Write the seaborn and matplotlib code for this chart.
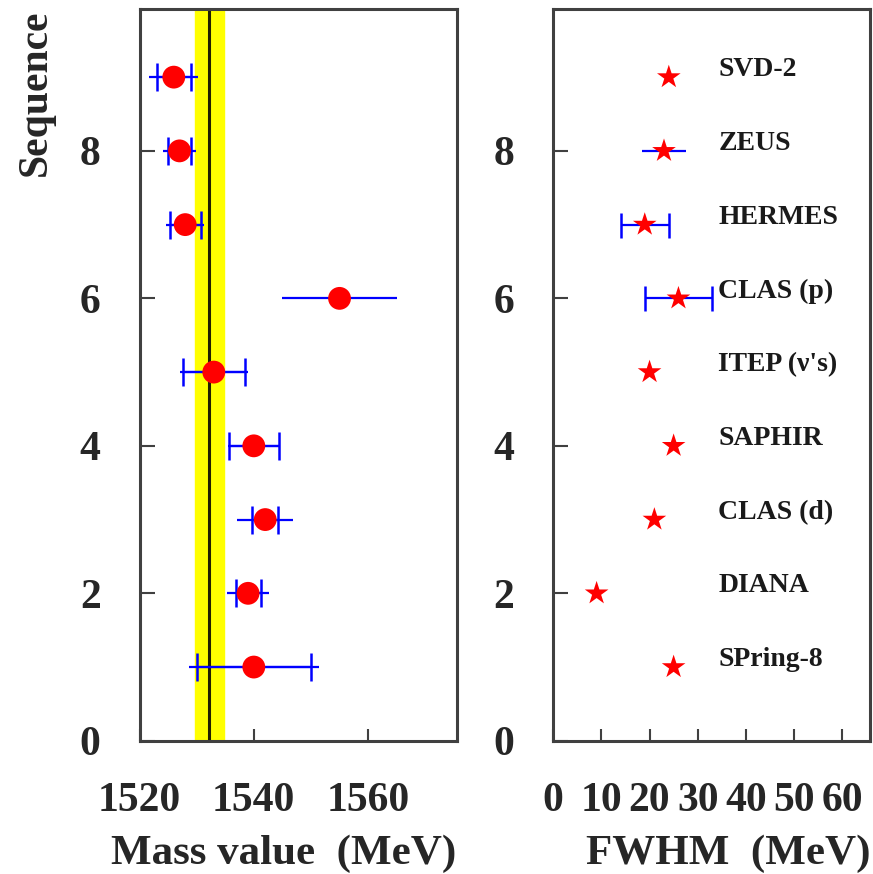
import numpy as np
import pandas as pd
import matplotlib
matplotlib.use('Agg')
import matplotlib.pyplot as plt
import seaborn as sns

# data
sequence = [9, 8, 7, 6, 5, 4, 3, 2, 1]
experiments = ['SVD-2', 'ZEUS', 'HERMES', 'CLAS (p)', "ITEP (\u03bd's)",
               'SAPHIR', 'CLAS (d)', 'DIANA', 'SPring-8']
mass = [1526, 1527, 1528, 1555, 1533, 1540, 1542, 1539, 1540]
mass_stat = [3.0, 2.0, 2.7, 0.0, 5.4, 4.4, 2.3, 2.2, 10.0]
mass_total = [4.3, 2.9, 3.3, 10.0, 5.9, 4.6, 4.9, 3.7, 11.4]
fwhm = [24, 23, 19, 26, 20, 25, 21, 9, 25]
fwhm_err_capped = [0, 0, 5, 7, 0, 0, 0, 0, 0]
fwhm_err_plain = [0, 4.5, 0, 0, 0, 0, 0, 0, 0]
mass_mean = 1532.2
mass_mean_err = 2.5

mass_ticks = [1520, 1540, 1560]
fwhm_ticks = [0, 10, 20, 30, 40, 50, 60]
seq_ticks = [0, 2, 4, 6, 8]

df = pd.DataFrame({'seq': sequence, 'exp': experiments, 'mass': mass,
                   'stat': mass_stat, 'total': mass_total, 'fwhm': fwhm,
                   'werr_c': fwhm_err_capped, 'werr_p': fwhm_err_plain})

sns.set_style('ticks')
plt.rcParams['font.family'] = ['Liberation Serif', 'DejaVu Serif']
plt.rcParams['font.weight'] = 'bold'

fig = plt.figure(figsize=(8.73, 8.74), dpi=100)
ax1 = fig.add_axes([139.5 / 873, 133.2 / 874, 317.2 / 873, 731.5 / 874])
ax2 = fig.add_axes([553.3 / 873, 133.2 / 874, 316.7 / 873, 731.5 / 874])

# left panel: mass values
ax1.axvspan(mass_mean - mass_mean_err, mass_mean + mass_mean_err, color='#ffff00', zorder=1)
ax1.axvline(mass_mean, color='#202000', lw=2.2, zorder=2)
ax1.errorbar(df['mass'], df['seq'], xerr=df['total'], fmt='none', ecolor='#0000ff',
             elinewidth=1.6, capsize=0, zorder=3)
st = df[df['stat'] > 0]
ax1.errorbar(st['mass'], st['seq'], xerr=st['stat'], fmt='none', ecolor='#0000ff',
             elinewidth=1.6, capsize=10, capthick=1.8, zorder=3)
sns.scatterplot(data=df, x='mass', y='seq', ax=ax1, color='#ff0000', s=270,
                marker='o', edgecolor='none', zorder=4)
ax1.set_xlim(1520, 1575.5)
ax1.set_xticks(mass_ticks)

# right panel: widths
cp = df[df['werr_c'] > 0]
ax2.errorbar(cp['fwhm'], cp['seq'], xerr=cp['werr_c'], fmt='none', ecolor='#0000ff',
             elinewidth=1.6, capsize=9, capthick=1.8, zorder=3)
pl = df[df['werr_p'] > 0]
ax2.errorbar(pl['fwhm'], pl['seq'], xerr=pl['werr_p'], fmt='none', ecolor='#0000ff',
             elinewidth=1.6, capsize=0, zorder=3)
sns.scatterplot(data=df, x='fwhm', y='seq', ax=ax2, color='#ff0000', s=320,
                marker='*', edgecolor='none', zorder=4)
for _, r in df.iterrows():
    ax2.text(34.3, r['seq'] + 0.1, r['exp'], fontsize=20, fontweight='bold',
             ha='left', va='center', color='#1a1a1a')
ax2.set_xlim(0, 65.8)
ax2.set_xticks(fwhm_ticks)

for ax in (ax1, ax2):
    ax.set_ylim(0, 9.92)
    ax.set_yticks(seq_ticks)
    ax.tick_params(axis='both', direction='in', labelsize=30, width=1.5,
                   color='#404040', top=False, right=False)
    ax.tick_params(axis='x', length=9, pad=30)
    ax.tick_params(axis='y', length=11, pad=28)
    for lab in ax.get_xticklabels() + ax.get_yticklabels():
        lab.set_fontweight('bold')
    for sp in ax.spines.values():
        sp.set_visible(True)
        sp.set_color('#404040')
        sp.set_linewidth(2.2)
    ax.set_ylabel('')
    ax.set_xlabel('')

ax1.set_xlabel('Mass value  (MeV)', fontsize=31, fontweight='bold', loc='right', labelpad=10)
ax2.set_xlabel('FWHM  (MeV)', fontsize=31, fontweight='bold', loc='right', labelpad=10)
ax1.set_ylabel('Sequence', fontsize=30, fontweight='bold', loc='top', labelpad=18)

fig.savefig('out.png', dpi=100)
